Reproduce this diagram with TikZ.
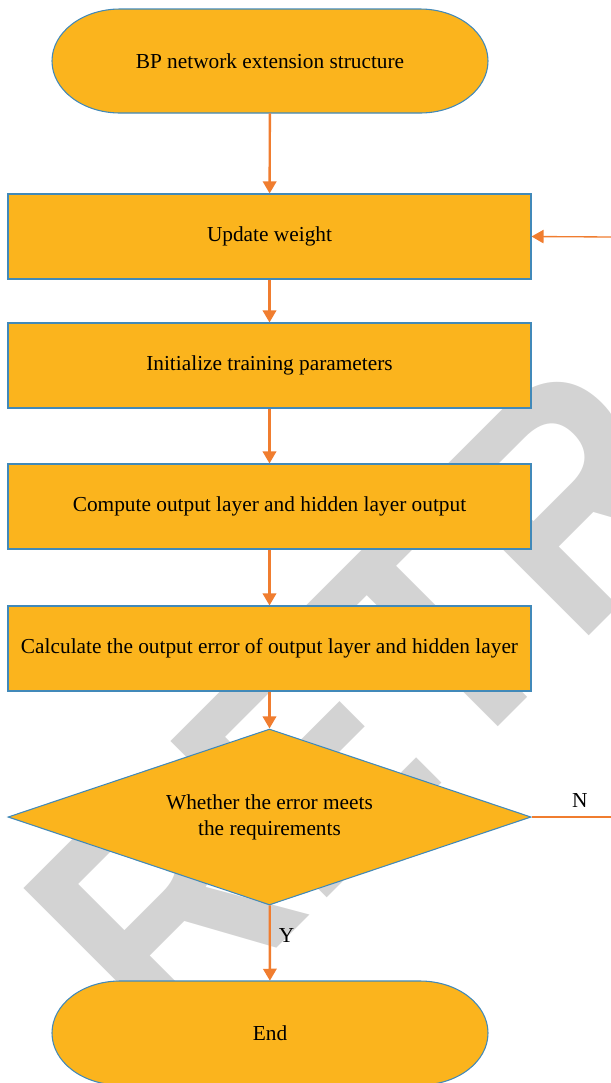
\documentclass[tikz,border=0pt]{standalone}
\usepackage{fontspec}
\setmainfont{Liberation Serif}
\newfontfamily\wmfamily{Liberation Sans}
\usetikzlibrary{shapes.geometric,arrows.meta}
\definecolor{boxfill}{RGB}{251,180,29}
\definecolor{boxline}{RGB}{65,137,185}
\definecolor{arrowc}{RGB}{240,125,47}
\definecolor{wmgray}{RGB}{211,211,211}
\begin{document}
\begin{tikzpicture}[x=0.75pt,y=-0.75pt,
  base/.style={draw=boxline, line width=0.8pt, fill=boxfill, font=\fontsize{16}{19.5}\selectfont, inner sep=0pt, align=center},
  procbox/.style={base, rectangle, minimum width=392.25pt, minimum height=63.75pt},
  termtext/.style={rectangle, inner sep=0pt, font=\fontsize{16}{19.5}\selectfont, minimum width=327pt, minimum height=78pt},
  termshape/.style={draw=boxline, line width=0.8pt, fill=boxfill},
  decbox/.style={base, diamond, minimum width=392.25pt, minimum height=132pt, aspect=2.97},
  tip/.style={-{Triangle[width=10pt,length=9pt]}},
  flow/.style={draw=arrowc, line width=1.8pt, tip},
  loopline/.style={draw=arrowc, line width=1pt},
  lbl/.style={font=\fontsize{16}{19}\selectfont, inner sep=0pt}
]
\useasboundingbox (0,0) rectangle (611,1083);
\clip (0,0) rectangle (611,1083);
% retraction watermark behind the chart
\node[anchor=base west, rotate=45, inner sep=0pt, text=wmgray,
      font=\wmfamily\bfseries\fontsize{241}{241}\selectfont] (wm) at (166,1059) {\scalebox{0.9}[1]{RETRACTED}};
% terminator outlines (elliptical ends)
\path[termshape] (120,9) -- (420,9) arc[start angle=-90, end angle=90, x radius=68, y radius=52]
   -- (120,113) arc[start angle=90, end angle=270, x radius=68, y radius=52] -- cycle;
\path[termshape] (120,981) -- (420,981) arc[start angle=-90, end angle=90, x radius=68, y radius=52]
   -- (120,1085) arc[start angle=90, end angle=270, x radius=68, y radius=52] -- cycle;
\node[termtext] (start) at (270,61) {BP network extension structure};
\node[procbox] (upd) at (269.5,236.5) {Update weight};
\node[procbox] (init) at (269.5,365.5) {Initialize training parameters};
\node[procbox] (comp) at (269.5,506.5) {Compute output layer and hidden layer output};
\node[procbox] (calc) at (269.5,648.5) {Calculate the output error of output layer and hidden layer};
\node[decbox] (dec) at (269.5,817) {Whether the error meets\\the requirements};
\node[termtext] (end) at (270,1033) {End};
\coordinate (nout) at (612,817);
\coordinate (fbin) at (612,237);
\draw[flow] (start) -- (upd);
\draw[flow] (upd) -- (init);
\draw[flow] (init) -- (comp);
\draw[flow] (comp) -- (calc);
\draw[flow] (calc) -- (dec);
\draw[flow] (dec) -- node[pos=0.4, right=6pt, lbl] {Y} (end);
\draw[loopline] (dec.east) -- node[pos=0.6, above=7pt, lbl] {N} (nout);
\draw[loopline, tip] (fbin) -- (upd.east);
\end{tikzpicture}
\end{document}
